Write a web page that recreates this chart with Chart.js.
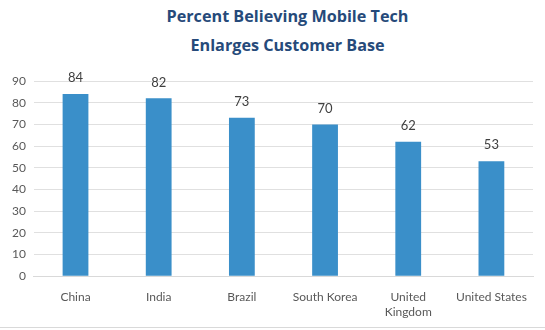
<!DOCTYPE html>
<html>
<head>
<meta charset="utf-8">
<script src="https://cdn.jsdelivr.net/npm/chart.js@4"></script>
<style>
  html, body { margin: 0; padding: 0; background: #fff; }
  #title {
    width: 515px; padding: 2px 0 0 30px; height: 60px;
    font: bold 16.2px 'Open Sans', sans-serif; line-height: 29px;
    color: #264a7a; text-align: center;
  }
  #wrap { width: 545px; height: 265px; border-bottom: 1px solid #d9d9d9; }
</style>
</head>
<body>
<div id="title">Percent Believing Mobile Tech<br>Enlarges Customer Base</div>
<div id="wrap"><canvas id="chart"></canvas></div>
<script>
//? Data
const countries = ['China', 'India', 'Brazil', 'South Korea', ['United', 'Kingdom'], 'United States']
const percents = [84, 82, 73, 70, 62, 53]

//? Labels above bars
const valueLabels = {
    id: 'valueLabels',
    afterDatasetsDraw(chart) {
        const ctx = chart.ctx
        const meta = chart.getDatasetMeta(0)
        ctx.save()
        ctx.font = '13px Lato'
        ctx.fillStyle = '#404040'
        ctx.textAlign = 'center'
        ctx.textBaseline = 'middle'
        meta.data.forEach((bar, i) => {
            ctx.fillText(percents[i], bar.x, bar.y - 16)
        })
        ctx.restore()
    }
}

const config = {
    type: 'bar',
    data: {
        labels: countries,
        datasets: [
            {
                label: 'Percent',
                data: percents,
                backgroundColor: '#3a8fc9',
                categoryPercentage: 1,
                barPercentage: 0.31
            }
        ]
    },
    options: {
        responsive: true,
        maintainAspectRatio: false,
        animation: false,
        layout: { padding: { left: 4, right: 12, top: 19, bottom: 2 } },
        plugins: {
            legend: { display: false },
            tooltip: { enabled: false }
        },
        scales: {
            x: {
                grid: { display: false },
                border: { color: '#d9d9d9' },
                ticks: { color: '#595959', font: { family: 'Lato', size: 12 }, maxRotation: 0, padding: 6 }
            },
            y: {
                min: 0,
                max: 90,
                ticks: { stepSize: 10, color: '#595959', font: { family: 'Lato', size: 12 }, padding: 8 },
                grid: { color: '#e0e0e0', drawTicks: false },
                border: { display: false }
            }
        }
    },
    plugins: [valueLabels]
}

const chart = new Chart(document.getElementById('chart'), config)
</script>
</body>
</html>
